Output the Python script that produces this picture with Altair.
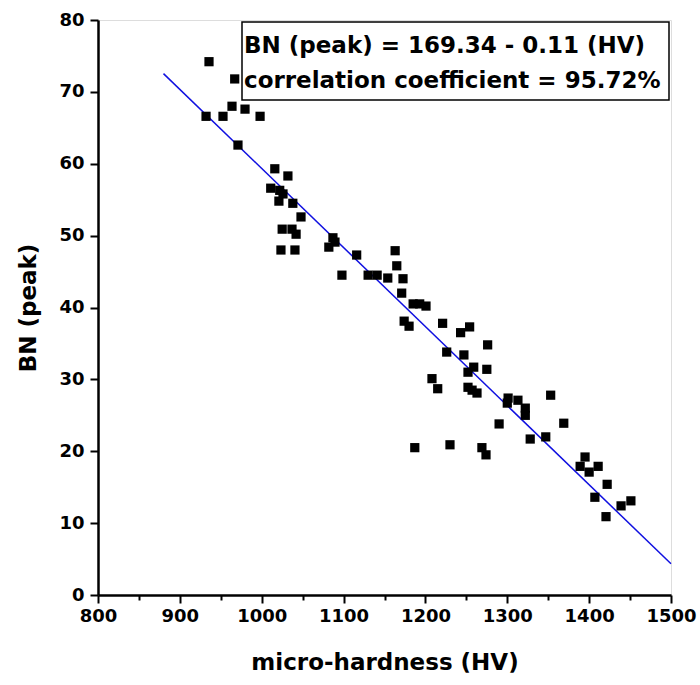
import altair as alt
import pandas as pd

# Measured points (micro-hardness HV, BN peak)
hv = [935.6, 967.0, 963.7, 979.6, 932.0, 952.7, 998.0, 971.0, 1016.0, 1032.0,
      1011.0, 1022.0, 1026.0, 1021.0, 1038.0, 1048.0, 1025.0, 1037.0, 1042.0, 1023.5,
      1040.6, 1082.0, 1087.0, 1089.5, 1098.0, 1116.0, 1130.0, 1141.0, 1154.0, 1163.0,
      1165.0, 1172.6, 1171.0, 1185.0, 1193.0, 1200.7, 1174.0, 1180.0, 1221.0, 1254.0,
      1243.0, 1276.0, 1226.0, 1247.0, 1259.0, 1275.0, 1252.0, 1208.0, 1215.0, 1252.0,
      1257.0, 1263.0, 1301.0, 1300.0, 1313.0, 1322.0, 1322.0, 1353.0, 1369.0, 1290.0,
      1328.0, 1347.0, 1187.0, 1230.0, 1269.0, 1274.0, 1395.0, 1389.0, 1400.0, 1411.0,
      1422.0, 1407.0, 1439.0, 1451.0, 1420.6]
bn = [74.2, 71.8, 68.0, 67.6, 66.6, 66.6, 66.6, 62.6, 59.3, 58.3,
      56.6, 56.3, 55.8, 54.8, 54.5, 52.6, 50.9, 50.9, 50.2, 48.0,
      48.0, 48.4, 49.7, 49.1, 44.5, 47.3, 44.5, 44.5, 44.1, 47.9,
      45.8, 44.0, 42.0, 40.5, 40.5, 40.2, 38.1, 37.4, 37.8, 37.3,
      36.5, 34.8, 33.8, 33.4, 31.7, 31.4, 31.0, 30.1, 28.7, 28.9,
      28.5, 28.1, 27.4, 26.7, 27.1, 26.0, 25.0, 27.8, 23.9, 23.8,
      21.7, 22.0, 20.5, 20.9, 20.5, 19.5, 19.2, 17.9, 17.1, 17.9,
      15.4, 13.6, 12.4, 13.1, 10.9]

# Regression line end points: BN = 169.34 - 0.11 HV
fit_hv = [880, 1500]
fit_bn = [72.54, 4.34]

annotation_lines = ["BN (peak) = 169.34 - 0.11 (HV)",
                    "correlation coefficient = 95.72%"]

x_ticks = list(range(800, 1501, 50))
y_ticks = list(range(0, 81, 5))

pts = pd.DataFrame({"hv": hv, "bn": bn})
fit = pd.DataFrame({"hv": fit_hv, "bn": fit_bn})

TICKF = "DejaVu Sans"
TITLEF = "DejaVu Sans"

xscale = alt.Scale(domain=[800, 1500], nice=False, zero=False)
yscale = alt.Scale(domain=[0, 80], nice=False, zero=True)

xaxis = alt.Axis(
    values=x_ticks, format="d",
    labelExpr="datum.value % 100 === 0 ? datum.label : ''",
    tickSize={"condition": {"test": "datum.value % 100 === 0", "value": 8}, "value": 5},
    grid=False, labelFont=TICKF, labelFontSize=18, labelFontWeight="bold",
    labelColor="black", labelPadding=4, labelFlush=False, labelOverlap=False,
    title="micro-hardness (HV)", titleFont=TITLEF, titleFontSize=23,
    titleFontWeight="bold", titleColor="black", titlePadding=26,
    domainColor="black", domainWidth=2.5, tickColor="black", tickWidth=2,
)
yaxis = alt.Axis(
    values=y_ticks, format="d",
    labelExpr="datum.value % 10 === 0 ? datum.label : ''",
    tickSize={"condition": {"test": "datum.value % 10 === 0", "value": 8}, "value": 5},
    grid=False, labelFont=TICKF, labelFontSize=18, labelFontWeight="bold",
    labelColor="black", labelPadding=6, labelFlush=False, labelOverlap=False,
    title="BN (peak)", titleFont=TITLEF, titleFontSize=23,
    titleFontWeight="bold", titleColor="black", titlePadding=18,
    domainColor="black", domainWidth=2.5, tickColor="black", tickWidth=2,
)

points = alt.Chart(pts).mark_square(size=85, color="black", opacity=1).encode(
    x=alt.X("hv:Q", scale=xscale, axis=xaxis),
    y=alt.Y("bn:Q", scale=yscale, axis=yaxis),
)

line = alt.Chart(fit).mark_line(color="#1010e0", strokeWidth=1.5).encode(
    x=alt.X("hv:Q", scale=xscale),
    y=alt.Y("bn:Q", scale=yscale),
)

box = alt.Chart(pd.DataFrame({"a": [0]})).mark_rect(
    fill="white", stroke="black", strokeWidth=1.5
).encode(
    x=alt.value(144), x2=alt.value(571), y=alt.value(2), y2=alt.value(80)
)

txt1 = alt.Chart(pd.DataFrame({"t": [annotation_lines[0]]})).mark_text(
    align="left", baseline="alphabetic", font="DejaVu Sans",
    fontSize=23, fontWeight="bold", color="black"
).encode(x=alt.value(146), y=alt.value(33), text="t:N")

txt2 = alt.Chart(pd.DataFrame({"t": [annotation_lines[1]]})).mark_text(
    align="left", baseline="alphabetic", font="DejaVu Sans",
    fontSize=23, fontWeight="bold", color="black"
).encode(x=alt.value(146), y=alt.value(68), text="t:N")

chart = alt.layer(line, points, box, txt1, txt2).properties(
    width=573, height=575,
    autosize=alt.AutoSizeParams(type="none"),
    padding={"left": 98, "top": 20, "right": 29, "bottom": 90},
).configure_view(stroke="black", strokeWidth=2).configure(background="white")

chart.save("out.html", embed_options={"renderer": "svg", "actions": False})
